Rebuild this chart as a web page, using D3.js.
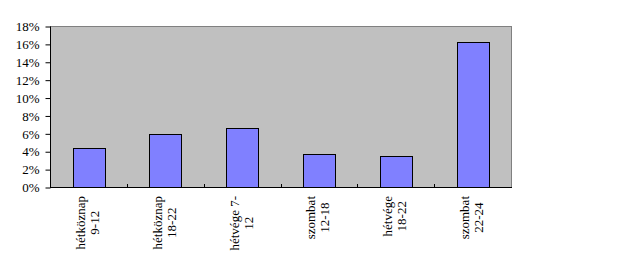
<!DOCTYPE html>
<html>
<head>
<meta charset="utf-8">
<script src="https://cdn.jsdelivr.net/npm/d3@7"></script>
<style>
  body { margin: 0; background: #fff; }
</style>
</head>
<body>
<div id="chart"></div>
<script>
const categories = [
  ['hétköznap', '9-12'],
  ['hétköznap', '18-22'],
  ['hétvége 7-', '12'],
  ['szombat', '12-18'],
  ['hétvége', '18-22'],
  ['szombat', '22-24']
]
const values = [0.0435, 0.059, 0.066, 0.037, 0.0347, 0.162]
const yTicks = [0, 0.02, 0.04, 0.06, 0.08, 0.10, 0.12, 0.14, 0.16, 0.18]

const width = 641
const height = 261
const plotLeft = 50, plotRight = 511, plotTop = 26, plotBottom = 187
const serif = '"Liberation Serif", "DejaVu Serif", serif'

const svg = d3.select('#chart')
  .append('svg')
  .attr('width', width)
  .attr('height', height)

const x = d3.scaleBand()
  .domain(d3.range(categories.length))
  .range([plotLeft, plotRight])
  .padding(0)

const y = d3.scaleLinear()
  .domain([0, 0.18])
  .range([plotBottom, plotTop])

// plot background
svg.append('rect')
  .attr('x', plotLeft + 0.5)
  .attr('y', plotTop + 0.5)
  .attr('width', plotRight - plotLeft)
  .attr('height', plotBottom - plotTop)
  .attr('fill', '#c0c0c0')
  .attr('stroke', '#808080')
  .attr('stroke-width', 1)

// bars
const barW = x.bandwidth() * 0.41
svg.selectAll('rect.bar')
  .data(values)
  .enter()
  .append('rect')
  .attr('class', 'bar')
  .attr('x', (d, i) => Math.round(x(i) + (x.bandwidth() - barW) / 2) + 0.5)
  .attr('y', d => Math.round(y(d)) + 0.5)
  .attr('width', Math.round(barW))
  .attr('height', d => plotBottom - Math.round(y(d)))
  .attr('fill', '#8080ff')
  .attr('stroke', '#000')
  .attr('stroke-width', 1)

// y axis
const yAxis = d3.axisLeft(y)
  .tickValues(yTicks)
  .tickFormat(d3.format('.0%'))
  .tickSize(5)
  .tickPadding(6)

svg.append('g')
  .attr('transform', `translate(${plotLeft + 0.5},0.5)`)
  .call(yAxis)
  .attr('font-family', serif)
  .attr('font-size', 13)
  .call(g => g.selectAll('line, path').attr('stroke', '#000'))
  .call(g => g.select('.domain').attr('d', `M0,${plotTop}V${plotBottom}`))
  .call(g => g.selectAll('text').attr('fill', '#000'))

// x axis: ticks at category boundaries, pointing into the plot
const bounds = d3.range(categories.length + 1).map(i => i === categories.length ? plotRight : x(i))
svg.append('line')
  .attr('x1', plotLeft).attr('x2', plotRight + 1)
  .attr('y1', plotBottom + 0.5).attr('y2', plotBottom + 0.5)
  .attr('stroke', '#000')
svg.selectAll('line.xtick')
  .data(bounds.slice(1, -1))
  .enter()
  .append('line')
  .attr('class', 'xtick')
  .attr('x1', d => Math.round(d) + 0.5).attr('x2', d => Math.round(d) + 0.5)
  .attr('y1', plotBottom - 3).attr('y2', plotBottom)
  .attr('stroke', '#000')

// category labels, rotated
categories.forEach((lines, i) => {
  const cx = x(i) + x.bandwidth() / 2
  const g = svg.append('g')
    .attr('font-family', serif)
    .attr('font-size', 13)
  const texts = lines.map((t, j) => g.append('text')
    .attr('text-anchor', 'middle')
    .attr('dy', '0.35em')
    .attr('fill', '#000')
    .text(t))
  const maxLen = d3.max(texts, t => t.node().getComputedTextLength())
  const cy = 196 + maxLen / 2
  texts.forEach((t, j) => {
    const lx = cx - 8 + j * 14
    t.attr('transform', `translate(${lx},${cy}) rotate(-90)`)
  })
})
</script>
</body>
</html>
